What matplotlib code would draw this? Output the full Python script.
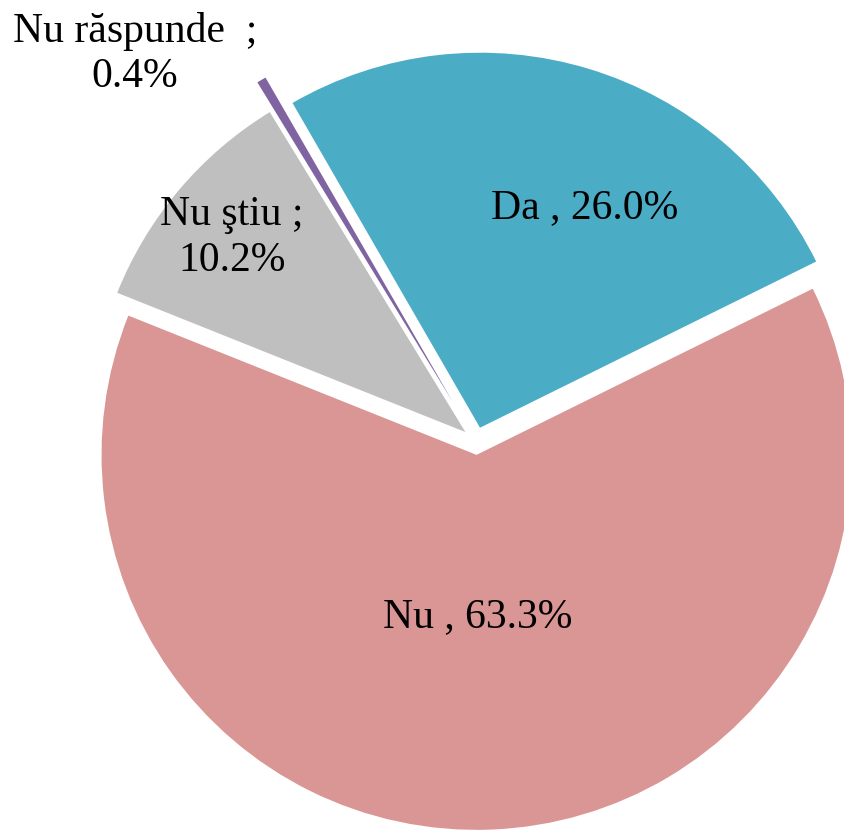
import matplotlib
matplotlib.use("Agg")
import matplotlib.pyplot as plt

# Data
categories = ["Da", "Nu", "Nu ştiu", "Nu răspunde"]
values = [26.0, 63.3, 10.2, 0.4]
label_texts = ["Da , 26.0%", "Nu , 63.3%", "Nu ştiu ;\n10.2%", "Nu răspunde  ;\n0.4%"]
colors = ["#4BACC6", "#D99694", "#BFBFBF", "#8064A2"]
explode = [0.037, 0.037, 0.037, 0.12]

W, H = 845, 830
CX, CY, R = 476.0, 441.0, 375.0  # pixel centre / radius

def px(x, y):
    return (x - CX) / R, (CY - y) / R

# label anchor positions (pixels)
label_pos = [(585, 208), (478, 617), (232, 238), (135, 54)]

plt.rcParams['font.family'] = ['Liberation Serif', 'DejaVu Serif']
fig = plt.figure(figsize=(W / 100, H / 100), dpi=100)
ax = fig.add_axes([0, 0, 1, 1])
ax.pie(values, colors=colors, explode=explode, startangle=120, counterclock=False,
       radius=1, center=(0, 0), wedgeprops=dict(linewidth=0))
x0, y0 = px(0, 0)
x1, y1 = px(W, H)
ax.set_xlim(x0, x1)
ax.set_ylim(y1, y0)
ax.set_aspect('equal')
ax.axis('off')

for t, (lx, ly) in zip(label_texts, label_pos):
    dx, dy = px(lx, ly)
    ax.text(dx, dy, t, ha='center', va='center', multialignment='center',
            fontsize=30, color='black', linespacing=1.25)

fig.savefig("out.png", dpi=100, facecolor='white')
